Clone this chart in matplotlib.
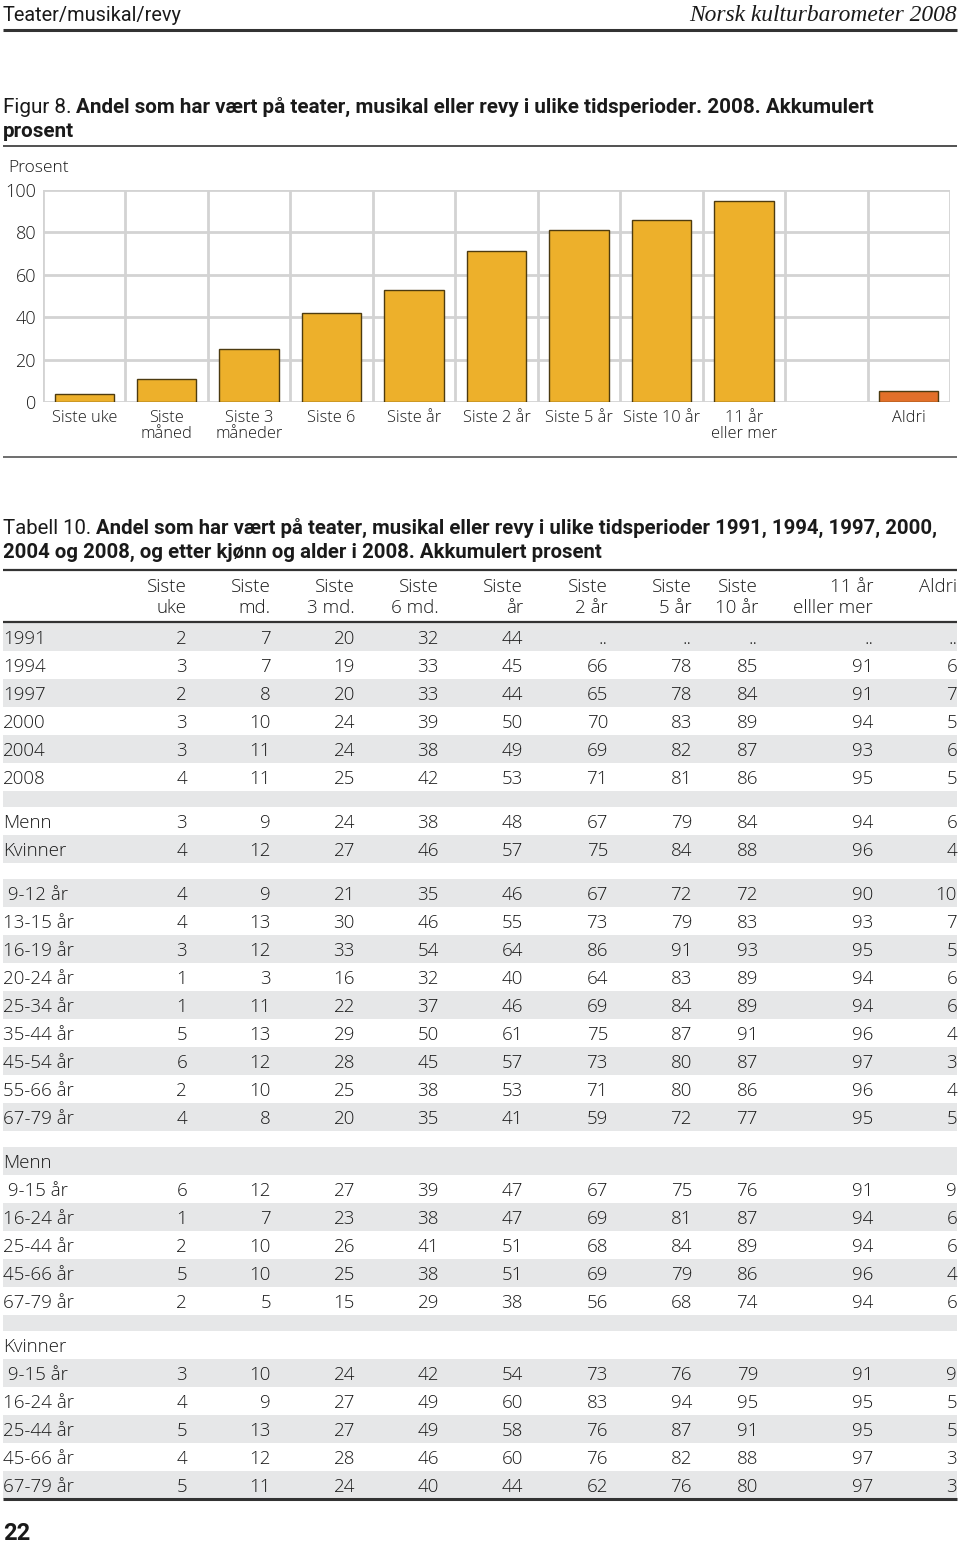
import matplotlib
matplotlib.use("Agg")
import matplotlib.pyplot as plt
from matplotlib.patches import Rectangle

# Data
bar_categories = ["Siste uke", "Siste\nmåned", "Siste 3\nmåneder", "Siste 6", "Siste år",
                  "Siste 2 år", "Siste 5 år", "Siste 10 år", "11 år\neller mer", "", "Aldri"]
bar_values = [4, 11, 25, 42, 53, 71, 81, 86, 95, None, 5]
yticks = [0, 20, 40, 60, 80, 100]

col_headers = ["Siste\nuke", "Siste\nmd.", "Siste\n3 md.", "Siste\n6 md.", "Siste\når",
               "Siste\n2 år", "Siste\n5 år", "Siste\n10 år", "11 år\nelller mer", "Aldri"]

year_labels = ["1991", "1994", "1997", "2000", "2004", "2008"]
year_values = [
    [2, 7, 20, 32, 44, "..", "..", "..", "..", ".."],
    [3, 7, 19, 33, 45, 66, 78, 85, 91, 6],
    [2, 8, 20, 33, 44, 65, 78, 84, 91, 7],
    [3, 10, 24, 39, 50, 70, 83, 89, 94, 5],
    [3, 11, 24, 38, 49, 69, 82, 87, 93, 6],
    [4, 11, 25, 42, 53, 71, 81, 86, 95, 5],
]
sex_labels = ["Menn", "Kvinner"]
sex_values = [
    [3, 9, 24, 38, 48, 67, 79, 84, 94, 6],
    [4, 12, 27, 46, 57, 75, 84, 88, 96, 4],
]
age_labels = [" 9-12 år", "13-15 år", "16-19 år", "20-24 år", "25-34 år",
              "35-44 år", "45-54 år", "55-66 år", "67-79 år"]
age_values = [
    [4, 9, 21, 35, 46, 67, 72, 72, 90, 10],
    [4, 13, 30, 46, 55, 73, 79, 83, 93, 7],
    [3, 12, 33, 54, 64, 86, 91, 93, 95, 5],
    [1, 3, 16, 32, 40, 64, 83, 89, 94, 6],
    [1, 11, 22, 37, 46, 69, 84, 89, 94, 6],
    [5, 13, 29, 50, 61, 75, 87, 91, 96, 4],
    [6, 12, 28, 45, 57, 73, 80, 87, 97, 3],
    [2, 10, 25, 38, 53, 71, 80, 86, 96, 4],
    [4, 8, 20, 35, 41, 59, 72, 77, 95, 5],
]
group_age_labels = [" 9-15 år", "16-24 år", "25-44 år", "45-66 år", "67-79 år"]
men_age_values = [
    [6, 12, 27, 39, 47, 67, 75, 76, 91, 9],
    [1, 7, 23, 38, 47, 69, 81, 87, 94, 6],
    [2, 10, 26, 41, 51, 68, 84, 89, 94, 6],
    [5, 10, 25, 38, 51, 69, 79, 86, 96, 4],
    [2, 5, 15, 29, 38, 56, 68, 74, 94, 6],
]
women_age_values = [
    [3, 10, 24, 42, 54, 73, 76, 79, 91, 9],
    [4, 9, 27, 49, 60, 83, 94, 95, 95, 5],
    [5, 13, 27, 49, 58, 76, 87, 91, 95, 5],
    [4, 12, 28, 46, 60, 76, 82, 88, 97, 3],
    [5, 11, 24, 40, 44, 62, 76, 80, 97, 3],
]

# Styles
W, H = 960, 1545
COND = ["Roboto", "DejaVu Sans"]
BODY = ["Open Sans", "DejaVu Sans"]
GOLD = "#edb02b"
ORANGE = "#e2702a"
EDGE = "#4d3b10"
GRID = "#d3d3d3"
SHADE = "#e6e7e8"
DARK = "#333333"
TXT = "#1a1a1a"
TS = 13.5  # table font size

fig = plt.figure(figsize=(W / 100, H / 100), dpi=100)
fig.patch.set_facecolor("white")

# page overlay in pixel coordinates
ax0 = fig.add_axes([0, 0, 1, 1])
ax0.set_xlim(0, W)
ax0.set_ylim(H, 0)
ax0.axis("off")
renderer = fig.canvas.get_renderer()


def hline(y, lw, color=DARK):
    ax0.plot([3, 957], [y, y], color=color, lw=lw, solid_capstyle="butt")


def width(t):
    return t.get_window_extent(renderer=renderer).width


def fit_text(x, y, s, target, ha="left", **kw):
    # shrink/grow font size so the text spans `target` pixels
    t = ax0.text(x, y, s, fontsize=14, ha=ha, va="baseline", color=TXT, **kw)
    t.set_fontsize(14 * target / width(t))
    return t


def two_part(y, light, bold, x_end, gap=5):
    t1 = ax0.text(3, y, light, family=COND, fontsize=14, va="baseline", color=TXT)
    t2 = ax0.text(3, y, bold, family=COND, fontsize=14, fontweight="bold", va="baseline",
                  color=TXT)
    size = 14 * (x_end - 3 - gap) / (width(t1) + width(t2))
    t1.set_fontsize(size)
    t2.set_fontsize(size)
    t2.set_x(3 + width(t1) + gap)
    return size


# page header
fit_text(3, 21, "Teater/musikal/revy", 180, family=COND)
fit_text(957, 21, "Norsk kulturbarometer 2008", 269, ha="right",
         family=["Liberation Serif"], style="italic")
hline(30, 2.2)

# figure title
fs = two_part(113, "Figur 8.", "Andel som har vært på teater, musikal eller revy i ulike tidsperioder. 2008. Akkumulert", 878)
ax0.text(3, 137, "prosent", family=COND, fontsize=fs, fontweight="bold", va="baseline", color=TXT)
hline(146, 1.2)
hline(457, 1.2, "#555555")

# bar chart
left, right, y0, y100 = 43, 950, 402, 190
ax = fig.add_axes([left / W, 1 - y0 / H, (right - left) / W, (y0 - y100) / H])
xs = list(range(len(bar_categories)))
for x, v in zip(xs, bar_values):
    if v is None:
        continue
    ax.bar(x, v, width=0.72, color=ORANGE if bar_categories[x] == "Aldri" else GOLD,
           edgecolor=EDGE, linewidth=1.0, zorder=3)
ax.set_xlim(-0.5, len(bar_categories) - 0.5)
ax.set_ylim(0, 100)
ax.set_yticks(yticks)
ax.set_yticklabels([str(t) for t in yticks], family=BODY, fontsize=13, fontweight="light")
ax.set_xticks(xs)
ax.set_xticklabels(bar_categories, family=BODY, fontsize=11.8, fontweight="light",
                   linespacing=1.0)
ax.tick_params(length=0, pad=5, colors=TXT)
ax.tick_params(axis="x", pad=6)
for b in [x - 0.5 for x in xs] + [len(bar_categories) - 0.5]:
    ax.axvline(b, color=GRID, lw=2, zorder=1)
for t in yticks:
    ax.axhline(t, color=GRID, lw=2, zorder=1)
for s in ax.spines.values():
    s.set_visible(False)
ax0.text(8, 172, "Prosent", family=BODY, fontsize=12.5, fontweight="light", va="baseline",
         color=TXT)

# table title
fs = two_part(534, "Tabell 10.", "Andel som har vært på teater, musikal eller revy i ulike tidsperioder 1991, 1994, 1997, 2000,", 942)
ax0.text(3, 558, "2004 og 2008, og etter kjønn og alder i 2008. Akkumulert prosent", family=COND,
         fontsize=fs, fontweight="bold", va="baseline", color=TXT)
hline(570, 1.6)

col_right = [187, 271, 355, 439, 523, 608, 692, 758, 873, 957]
for xr, h in zip(col_right, col_headers):
    ax0.text(xr, 578, h, family=BODY, fontsize=TS, fontweight="light", ha="right", va="top",
             multialignment="right", linespacing=1.22, color=TXT)
hline(622, 1.6)

# table rows
ROW, GAP = 28, 16
rows = []
rows += list(zip(year_labels, year_values))
rows.append(None)
rows += list(zip(sex_labels, sex_values))
rows.append(None)
rows += list(zip(age_labels, age_values))
rows.append(None)
rows.append(("Menn", None))
rows += list(zip(group_age_labels, men_age_values))
rows.append(None)
rows.append(("Kvinner", None))
rows += list(zip(group_age_labels, women_age_values))

top = 623
for i, r in enumerate(rows):
    h = GAP if r is None else ROW
    if i % 2 == 0:
        ax0.add_patch(Rectangle((3, top), 954, h, color=SHADE, lw=0, zorder=0))
    if r is not None:
        label, vals = r
        yc = top + h / 2 + 1.5
        ax0.text(3, yc, label, family=BODY, fontsize=TS, fontweight="light", va="center",
                 color=TXT)
        if vals is not None:
            for xr, v in zip(col_right, vals):
                ax0.text(xr, yc, str(v), family=BODY, fontsize=TS, fontweight="light",
                         ha="right", va="center", color=TXT)
    top += h
hline(top, 2.2)

fit_text(3, 1540, "22", 27, family=COND, fontweight="bold")

fig.savefig("out.png", dpi=100, facecolor="white")
